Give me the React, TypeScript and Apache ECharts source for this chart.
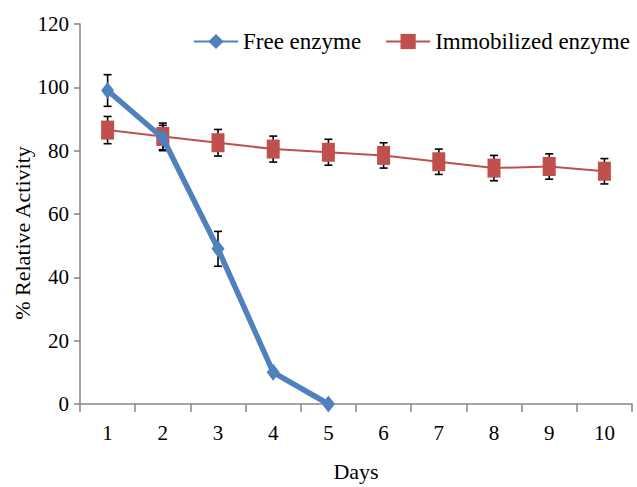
import React, { useEffect, useRef } from "react";
import * as echarts from "echarts";

const days = ["1", "2", "3", "4", "5", "6", "7", "8", "9", "10"];
const freeValues = [99, 84, 49, 10, 0];
const freeErrors = [5, 4, 5.5, 0, 0];
const immobValues = [86.5, 84.5, 82.5, 80.5, 79.5, 78.5, 76.5, 74.5, 75, 73.5];
const immobErrors = [4.3, 4.2, 4.2, 4.1, 4.1, 4, 4, 4, 4, 4];
const yTicks = { min: 0, max: 120, interval: 20 };

const FONT = "Liberation Serif";

function errorData(values: number[], errs: number[]) {
  return values.map((v, i) => [i, v - errs[i], v + errs[i]]);
}

function errorRender(params: any, api: any) {
  const x = api.value(0);
  const lo = api.coord([x, api.value(1)]);
  const hi = api.coord([x, api.value(2)]);
  const cap = 4;
  const style = { stroke: "#000", lineWidth: 1.6 };
  return {
    type: "group",
    children: [
      { type: "line", shape: { x1: lo[0], y1: lo[1], x2: hi[0], y2: hi[1] }, style },
      { type: "line", shape: { x1: lo[0] - cap, y1: lo[1], x2: lo[0] + cap, y2: lo[1] }, style },
      { type: "line", shape: { x1: hi[0] - cap, y1: hi[1], x2: hi[0] + cap, y2: hi[1] }, style },
    ],
  };
}

export default function App() {
  const ref = useRef<HTMLDivElement>(null);
  useEffect(() => {
    if (!ref.current) return;
    const chart = echarts.init(ref.current, undefined, { renderer: "svg" });
    chart.setOption({
      animation: false,
      backgroundColor: "#fff",
      textStyle: { fontFamily: FONT, color: "#000" },
      grid: { left: 80, width: 552, top: 24, height: 388, containLabel: false },
      legend: {
        left: 193,
        top: 30,
        width: 444,
        padding: 0,
        itemWidth: 44,
        itemHeight: 19,
        itemGap: 24,
        textStyle: { fontFamily: FONT, fontSize: 23, color: "#000" },
        data: ["Free enzyme", "Immobilized enzyme"],
      },
      xAxis: {
        type: "category",
        data: days,
        boundaryGap: true,
        name: "Days",
        nameLocation: "middle",
        nameGap: 56,
        nameTextStyle: { fontFamily: FONT, fontSize: 22, color: "#000" },
        axisLine: { show: true, lineStyle: { color: "#868686", width: 1.5 } },
        axisTick: { show: true, length: 8, lineStyle: { color: "#868686", width: 1.5 } },
        axisLabel: { fontFamily: FONT, fontSize: 21, color: "#000", margin: 18 },
        splitLine: { show: false },
      },
      yAxis: {
        type: "value",
        min: yTicks.min,
        max: yTicks.max,
        interval: yTicks.interval,
        axisLine: { show: true, lineStyle: { color: "#868686", width: 1.5 } },
        axisTick: { show: true, length: 6, lineStyle: { color: "#868686", width: 1.5 } },
        axisLabel: { fontFamily: FONT, fontSize: 21, color: "#000", margin: 11 },
        splitLine: { show: false },
      },
      graphic: [
        {
          type: "text",
          x: 22,
          y: 233,
          rotation: Math.PI / 2,
          style: {
            text: "% Relative Activity",
            font: `22px ${FONT}`,
            fill: "#000",
            textAlign: "center",
            textVerticalAlign: "middle",
          },
        },
      ],
      series: [
        {
          name: "errImmob",
          type: "custom",
          renderItem: errorRender,
          data: errorData(immobValues, immobErrors),
          z: 1,
          silent: true,
        },
        {
          name: "errFree",
          type: "custom",
          renderItem: errorRender,
          data: errorData(freeValues, freeErrors).filter((d, i) => freeErrors[i] > 0),
          z: 1,
          silent: true,
        },
        {
          name: "Immobilized enzyme",
          type: "line",
          data: immobValues,
          symbol: "rect",
          symbolSize: [13, 19],
          itemStyle: { color: "#C0504D" },
          lineStyle: { color: "#C0504D", width: 2 },
          z: 2,
        },
        {
          name: "Free enzyme",
          type: "line",
          data: freeValues,
          symbol: "diamond",
          symbolSize: [13, 17],
          itemStyle: { color: "#4F81BD" },
          lineStyle: { color: "#4F81BD", width: 5.5 },
          z: 3,
        },
      ],
    });
    return () => chart.dispose();
  }, []);
  return <div ref={ref} style={{ width: 637, height: 487, position: "absolute", left: 0, top: 0 }} />;
}
